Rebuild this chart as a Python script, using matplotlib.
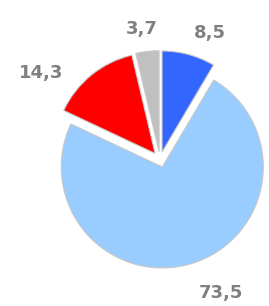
import matplotlib
matplotlib.use("Agg")
import matplotlib.pyplot as plt

# slice shares, clockwise from 12 o'clock
values = [8.5, 73.5, 14.3, 3.7]
colors = ["#3366ff", "#99ccff", "#ff0000", "#c0c0c0"]

# label anchor points in pixels (x centre, baseline y from top)
label_pos = [(209.5, 38), (220.5, 298), (41, 78), (142, 34)]

W, H = 269, 306
center = (160, H - 159.5)
radius = 101
gap = 7.8

fig = plt.figure(figsize=(W / 100, H / 100), dpi=100)
ax = fig.add_axes([0, 0, 1, 1])
ax.pie(
    values,
    colors=colors,
    startangle=90,
    counterclock=False,
    explode=[gap] * len(values),
    center=center,
    radius=radius,
    wedgeprops=dict(edgecolor="#c8c8c8", linewidth=0.8),
)
ax.set_xlim(0, W)
ax.set_ylim(0, H)
ax.set_aspect("equal")
ax.axis("off")

for v, (x, y) in zip(values, label_pos):
    ax.text(x, H - y, f"{v:.1f}".replace(".", ","), ha="center", va="baseline",
            fontsize=13, fontweight="bold", color="#808080", family="DejaVu Sans")

fig.savefig("out.png", dpi=100)
